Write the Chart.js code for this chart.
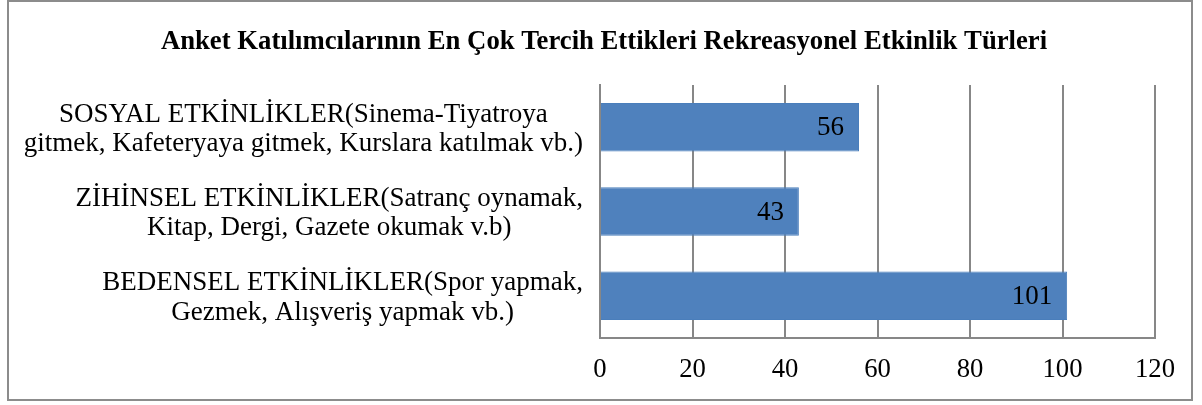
<!DOCTYPE html>
<html>
<head>
<meta charset="utf-8">
<script src="https://cdn.jsdelivr.net/npm/chart.js@4"></script>
<style>
  html, body { margin: 0; padding: 0; background: #fff; }
  #wrap { width: 1202px; height: 405px; position: relative; }
</style>
</head>
<body>
<div id="wrap"><canvas id="grafik" width="1202" height="405"></canvas></div>
<script>
// Veriler
const kategoriler = [
    ['SOSYAL ETKİNLİKLER(Sinema-Tiyatroya', 'gitmek, Kafeteryaya gitmek, Kurslara katılmak vb.)'],
    ['ZİHİNSEL ETKİNLİKLER(Satranç oynamak,', 'Kitap, Dergi, Gazete okumak v.b)'],
    ['BEDENSEL ETKİNLİKLER(Spor yapmak,', 'Gezmek, Alışveriş yapmak vb.)']
];
const degerler = [56, 43, 101];
const baslik = 'Anket Katılımcılarının En Çok Tercih Ettikleri Rekreasyonel Etkinlik Türleri';

const yazi = 'Liberation Serif, "Times New Roman", serif';

// Dış çerçeve, kategori etiketleri (Word gibi ortalanmış) ve değer etiketleri
const cerceve = {
    id: 'cerceve',
    beforeDraw(chart) {
        const c = chart.ctx;
        c.save();
        c.fillStyle = '#fff';
        c.fillRect(0, 0, chart.width, chart.height);
        c.strokeStyle = '#8c8c8c';
        c.lineWidth = 2;
        c.strokeRect(8, 1, 1184, 399);
        c.restore();
    },
    afterDraw(chart) {
        const c = chart.ctx;
        const y = chart.scales.y;
        c.save();
        c.font = '27px ' + yazi;
        c.fillStyle = '#000';
        c.textAlign = 'center';
        c.textBaseline = 'middle';
        const sag = y.right - 17;
        const satir = 29.5;
        kategoriler.forEach((lbl, i) => {
            const py = y.getPixelForValue(i) + 2;
            const gen = Math.max(...lbl.map(s => c.measureText(s).width));
            const ox = sag - gen / 2;
            lbl.forEach((s, j) => {
                c.fillText(s, ox, py + (j - (lbl.length - 1) / 2) * satir);
            });
        });
        c.restore();
    },
    afterDatasetsDraw(chart) {
        const c = chart.ctx;
        const meta = chart.getDatasetMeta(0);
        c.save();
        c.font = '27px ' + yazi;
        c.fillStyle = '#000';
        c.textAlign = 'right';
        c.textBaseline = 'middle';
        meta.data.forEach((bar, i) => {
            c.fillText(String(degerler[i]), bar.x - 15, bar.y + 1);
        });
        c.restore();
    }
};

const ctx = document.getElementById('grafik').getContext('2d');
new Chart(ctx, {
    type: 'bar',
    data: {
        labels: kategoriler,
        datasets: [{
            data: degerler,
            backgroundColor: '#4f81bd',
            borderColor: '#4a7ebb',
            borderWidth: 1,
            barPercentage: 0.575,
            categoryPercentage: 1
        }]
    },
    options: {
        indexAxis: 'y',
        responsive: false,
        animation: false,
        layout: { padding: { left: 53, right: 47, top: 0, bottom: 0 } },
        plugins: {
            legend: { display: false },
            tooltip: { enabled: false },
            title: {
                display: true,
                text: baslik,
                color: '#000',
                font: { family: yazi, size: 26.7, weight: 'bold', lineHeight: 1.2 },
                padding: { top: 26, bottom: 27 }
            }
        },
        scales: {
            x: {
                min: 0,
                max: 120,
                ticks: {
                    stepSize: 20,
                    color: '#000',
                    font: { family: yazi, size: 26.7, lineHeight: 1.2 },
                    padding: 16
                },
                grid: { color: '#878787', lineWidth: 2, drawTicks: false },
                border: { color: '#878787', width: 2 },
                afterFit(scale) { scale.height = 405 - 338; }
            },
            y: {
                ticks: { display: false },
                grid: { display: false, drawTicks: false },
                border: { color: '#878787', width: 2 },
                afterFit(scale) { scale.width = 600 - 53; }
            }
        }
    },
    plugins: [cerceve]
});
</script>
</body>
</html>
